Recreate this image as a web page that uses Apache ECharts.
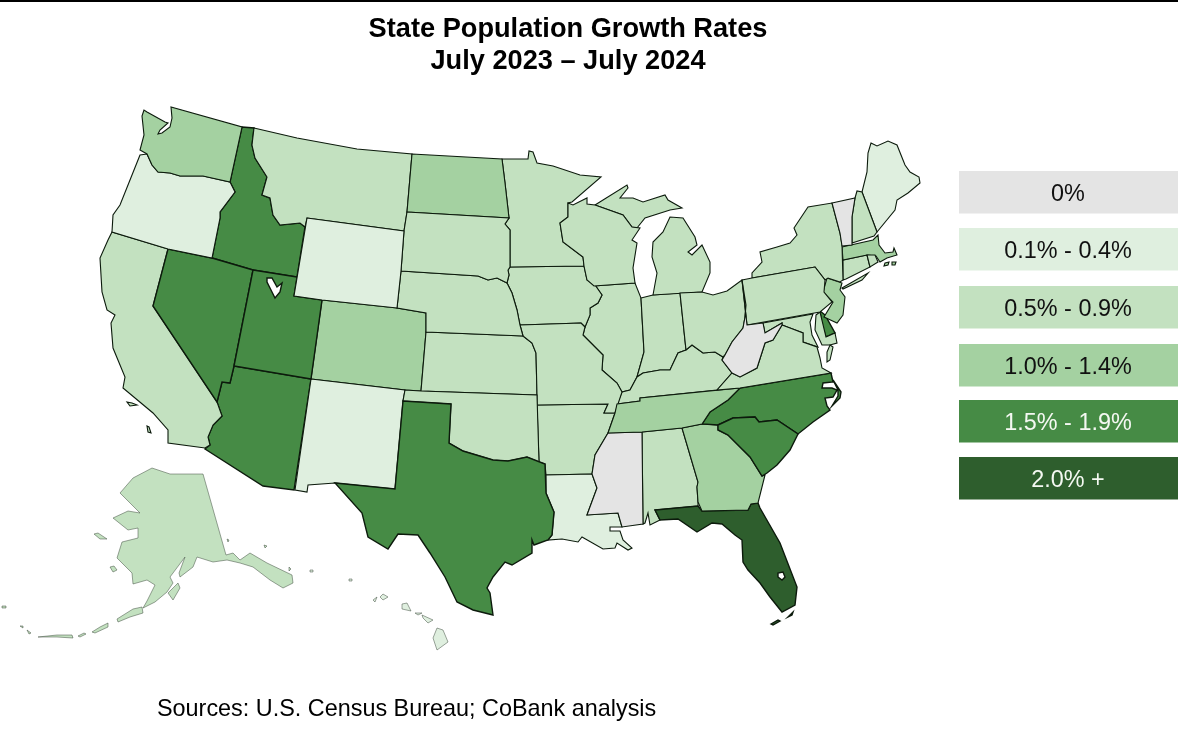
<!DOCTYPE html>
<html><head><meta charset="utf-8"><title>State Population Growth Rates</title>
<style>html,body{margin:0;padding:0;background:#fff}#c{width:1178px;height:733px}</style>
<script src="https://cdn.jsdelivr.net/npm/echarts@6/dist/echarts.min.js"></script></head>
<body><div id="c"></div>
<script>
const titleText = 'State Population Growth Rates\nJuly 2023 – July 2024';
const sourceText = 'Sources: U.S. Census Bureau; CoBank analysis';
const binLabels = ['0%','0.1% - 0.4%','0.5% - 0.9%','1.0% - 1.4%','1.5% - 1.9%','2.0% +'];
const binColors = ['#e4e4e4','#dfefdf','#c3e1c0','#a4d1a1','#468b45','#2e5e2d'];
const binTextColors = ['#111','#111','#111','#111','#f4f8f2','#f4f8f2'];
const stateNames = ['AL','AK','AZ','AR','CA','CO','CT','DE','FL','GA','HI','ID','IL','IN','IA','KS','KY','LA','ME','MD','MA','MI','MN','MS','MO','MT','NE','NV','NH','NJ','NM','NY','NC','ND','OH','OK','OR','PA','RI','SC','SD','TN','TX','UT','VT','VA','WA','WV','WI','WY'];
const stateBins =  [2,2,4,2,2,3,2,4,5,3,1,4,2,2,2,2,2,1,1,2,3,2,2,0,2,2,2,4,2,3,1,2,4,3,2,2,1,2,2,4,2,3,4,4,0,2,3,0,2,1];

// Base map outlines in the map's own projected plane ("|" separates parts, ";" starts a hole)
const stateShapes = {
WA:'144,110 142,116 144,135 140,150 147,154 152,165 158,172 170,173 180,176 203,176 230,182 242,127 171,107 172,118 170,127 162,133 158,134 160,130 168,123 165,122 147,112',
ID:'242,127 254,128 252,145 255,158 267,177 262,195 270,198 273,215 280,225 300,223 305,227 297,277 253,270 212,258 220,218 220,212 235,192 230,182',
MT:'254,128 297,138 357,149 412,154 407,212 404,231 307,218 305,227 300,223 280,225 273,215 270,198 262,195 267,177 255,158 252,145',
WY:'307,218 404,231 401,271 397,308 322,300 294,296',
OR:'140,155 132,175 120,205 113,215 112,232 168,249 212,258 220,218 220,212 235,192 230,182 203,176 180,176 170,173 158,172 152,165 147,154',
CA:'112,232 168,249 153,306 217,402 222,416 213,425 208,437 210,445 205,448 168,443 168,430 153,413 123,388 125,377 113,348 111,323 115,315 107,310 102,292 100,258 108,240|127,402 132,403 137,405 130,406|147,426 149,427 151,433 148,432',
NV:'168,249 212,258 253,270 234,366 230,383 222,382 217,402 153,306',
UT:'253,270 297,277 294,296 322,300 311,379 234,366;267,278 272,278 277,287 282,283 280,292 275,298 270,288 267,282',
AZ:'234,366 311,379 294,490 263,486 205,449 210,445 208,437 213,425 222,416 217,402 222,382 230,383',
CO:'322,300 397,308 426,313 426,332 421,391 405,390 311,379',
NM:'311,379 405,390 403,401 395,489 335,483 308,485 307,492 295,490',
TX:'403,401 451,404 449,443 463,451 483,457 493,460 508,461 527,457 545,464 546,493 554,512 552,535 548,540 534,545 532,540 532,553 512,565 505,562 493,577 487,588 490,593 493,615 473,610 457,602 445,577 430,553 418,535 398,534 388,549 368,537 362,513 335,483 395,489',
OK:'405,390 421,391 537,395 539,462 527,457 508,461 493,460 483,457 463,451 449,443 451,404 403,401',
KS:'426,332 523,336 532,343 536,353 537,395 421,391',
NE:'401,271 478,276 488,280 497,278 507,283 512,293 517,310 520,325 523,336 426,332 426,313 397,308',
ND:'412,154 502,159 505,183 509,218 407,212',
SD:'407,212 509,218 505,224 510,230 510,267 508,270 509,275 507,283 497,278 488,280 478,276 401,271 404,231',
MN:'502,159 528,159 529,151 533,152 537,163 553,166 580,175 601,177 572,202 568,203 568,217 560,223 563,242 583,257 584,266 510,267 510,230 505,224 509,218 505,183',
IA:'510,267 584,266 587,280 595,285 602,295 598,303 590,308 590,315 585,327 581,323 520,325 517,310 512,293 507,283 509,275 508,270',
MO:'520,325 581,323 585,327 583,335 603,355 602,370 617,383 622,392 615,413 604,413 608,404 537,405 537,395 536,353 532,343 523,336',
AR:'537,405 608,404 604,413 615,413 608,433 595,455 592,474 546,475 545,464 539,462',
LA:'546,475 592,474 597,488 587,515 618,513 622,527 610,527 610,531 620,531 623,540 632,548 628,550 617,543 615,548 603,549 582,537 578,542 562,539 548,540 552,535 554,512 546,493',
MS:'608,433 642,432 643,524 622,527 618,513 587,515 597,488 592,474 595,455',
TN:'617,404 640,401 640,398 740,388 728,400 710,412 702,424 682,428 642,432 608,433 615,413',
KY:'617,404 622,392 630,390 637,377 643,373 660,370 670,370 678,353 686,350 692,345 703,353 715,352 723,357 722,360 732,373 717,390 640,398 640,401',
VA:'717,390 732,373 740,377 757,368 765,343 773,340 782,325 790,328 803,333 803,342 817,347 820,358 822,368 831,373 740,388|830,345 833,347 830,360 827,362 827,352',
WV:'747,325 763,323 765,333 782,323 782,325 773,340 765,343 757,368 740,377 732,373 722,360 725,355 732,342 743,328 745,317 746,305 742,280',
OH:'680,293 702,292 713,295 727,291 742,280 746,305 745,317 743,328 732,342 725,355 723,357 715,352 703,353 692,345 686,350',
IN:'641,298 653,295 680,293 686,350 678,353 670,370 660,370 643,373 637,377 644,352',
IL:'594,286 635,283 641,298 644,352 637,377 630,390 622,392 617,383 602,370 603,355 583,335 585,327 590,315 590,308 598,303 602,295 595,285',
WI:'568,203 573,205 587,198 587,204 595,205 623,215 632,227 640,228 632,240 637,243 633,268 635,283 594,286 587,280 584,266 583,257 563,242 560,223 568,217',
MI:'595,205 627,185 628,188 620,198 633,198 643,202 665,195 668,200 682,208 670,210 645,218 637,228 632,227 623,215|653,295 657,273 652,257 653,242 663,232 670,217 683,218 695,237 697,245 688,252 692,255 702,245 710,262 710,273 702,292',
PA:'742,280 752,278 815,267 825,280 824,292 832,302 820,312 747,325',
NY:'752,278 752,273 762,262 760,252 777,247 790,243 797,235 794,228 808,207 832,203 840,233 842,245 843,280 840,282 828,278 825,280 815,267|842,288 868,273 862,280 843,289',
VT:'832,203 855,198 852,217 852,245 842,246 840,233',
NH:'855,198 857,191 862,192 877,232 874,236 852,243 852,217',
ME:'871,143 877,146 888,141 897,145 905,165 910,172 919,177 920,183 908,193 897,200 895,210 877,232 862,192 867,172 868,153',
MA:'842,247 873,240 878,235 879,245 885,253 893,252 894,248 897,255 887,258 880,262 876,256 867,255 843,260|885,263 889,262 888,265 884,266|892,262 896,262 895,265 892,265',
CT:'843,260 867,255 870,267 846,279 843,280',
RI:'867,255 875,255 878,262 870,267',
NJ:'827,278 842,283 840,290 845,297 843,315 837,323 824,317 833,302 823,292',
DE:'820,311 825,315 835,333 826,337 822,325',
MD:'763,323 813,314 810,322 812,335 818,347 803,342 803,333 790,328 782,325 782,323 765,333|816,315 820,312 826,337 835,333 837,343 830,345 822,345 815,330',
NC:'831,373 833,382 823,383 822,388 832,388 837,390 833,397 825,398 827,406 830,410 813,422 798,434 777,420 759,422 755,417 733,418 718,425 702,424 710,412 728,400 740,388|833,380 841,392 840,398 832,406 838,396 838,390',
SC:'733,418 755,417 759,422 777,420 798,434 790,450 777,465 767,473 762,476 750,457 728,435 718,430 718,425',
GA:'682,428 702,424 718,425 718,430 728,435 750,457 762,476 765,475 758,503 751,504 748,510 702,511 698,502 697,487 698,482',
AL:'642,432 682,428 698,482 697,487 698,502 698,506 655,510 660,520 650,525 648,513 645,523 643,524',
FL:'655,510 698,506 702,511 748,510 751,504 758,503 760,508 780,543 797,587 795,605 782,612 770,597 760,583 748,570 743,562 742,540 735,535 722,524 712,523 697,532 678,519 660,520;778,573 783,572 785,577 782,580 778,577|771,624 778,620 780,621 773,625|788,617 793,612 792,615',
AK:'203,474 226,555 233,553 240,560 250,553 267,563 292,575 293,583 283,588 270,580 253,567 240,563 227,560 213,562 197,557 193,567 180,577 179,573 185,557 170,577 173,583 167,592 155,602 143,608 147,601 155,585 147,580 133,584 132,573 117,558 122,542 138,538 138,528 128,530 113,518 128,511 140,513 120,493 133,478 152,468 170,474 187,474|142,607 133,609 117,619 118,622 130,617 143,613|168,593 178,583 180,588 173,600|110,567 114,566 117,570 113,572|94,534 98,533 107,539 100,539|92,632 100,627 108,623 108,627 95,633|78,636 84,633 86,634 80,637|38,637 57,635 72,635 73,638 57,637|2,606 6,606 6,608 2,608|20,626 23,626 23,628|27,630 31,633 29,634|289,567 291,569 289,571|264,545 267,546 265,548|227,539 229,540 228,542',
HI:'437,628 443,630 448,642 437,650 433,638|422,615 433,620 428,623 423,618|415,613 422,613 418,615|402,604 407,603 411,611 402,609|380,597 383,594 388,597 383,600|373,600 377,597 375,602|349,579 352,579 352,581 349,581|310,570 313,570 313,572 310,572'
};

function ringOf(s){return s.trim().split(' ').map(p=>{const a=p.split(',');return [+a[0],-a[1]];});}
function closeRing(r){const a=r[0],b=r[r.length-1];if(a[0]!==b[0]||a[1]!==b[1])r.push(a.slice());return r;}
function signedArea(r){let s=0;for(let i=0;i<r.length-1;i++)s+=r[i][0]*r[i+1][1]-r[i+1][0]*r[i][1];return s;}
let minX=1e9,maxX=-1e9,minY=1e9,maxY=-1e9;
const features = stateNames.map(n=>{
  const polys = stateShapes[n].split('|').map(part=>{
    const rings = part.split(';').map(s=>{
      const r=closeRing(ringOf(s));
      r.forEach(p=>{minX=Math.min(minX,p[0]);maxX=Math.max(maxX,p[0]);minY=Math.min(minY,-p[1]);maxY=Math.max(maxY,-p[1]);});
      return r;
    });
    // holes must wind against their outer ring to be punched out
    for(let i=1;i<rings.length;i++){ if(signedArea(rings[i])*signedArea(rings[0])>0) rings[i].reverse(); }
    return rings;
  });
  return {type:'Feature',properties:{name:n},geometry:{type:'MultiPolygon',coordinates:polys}};
});
echarts.registerMap('usStates',{type:'FeatureCollection',features});

const thinOutline = ['AK','HI'];
const mapData = stateNames.map((n,i)=>({name:n,value:stateBins[i],
  itemStyle: thinOutline.includes(n)?{borderColor:'#3c4a3c',borderWidth:0.5}:{borderColor:'#0c1a0c',borderWidth:stateBins[i]>=4?1.4:1.1}}));

const legendTop = [171,228,286,344,400,457];
const legendGraphics = [];
binLabels.forEach((t,i)=>{
  legendGraphics.push({type:'rect',silent:true,shape:{x:959,y:legendTop[i],width:219,height:42.5},style:{fill:binColors[i]}});
  legendGraphics.push({type:'text',silent:true,x:1068,y:legendTop[i]+24,style:{text:t,fill:binTextColors[i],font:'23.4px "Liberation Sans", Arial, sans-serif',textAlign:'center',textVerticalAlign:'middle'}});
});

const chart = echarts.init(document.getElementById('c'),null,{renderer:'canvas'});
chart.setOption({
  backgroundColor:'#ffffff',
  animation:false,
  title:{text:titleText,left:563,top:9,textAlign:'center',
    textStyle:{fontFamily:'"Liberation Sans", Arial, sans-serif',fontWeight:'bold',fontSize:27.2,lineHeight:32,color:'#000'}},
  visualMap:{show:false,type:'piecewise',seriesIndex:0,dimension:0,
    pieces:binColors.map((c,i)=>({value:i,color:c}))},
  series:[{type:'map',map:'usStates',silent:true,aspectScale:1,roam:false,
    left:minX,top:minY,width:maxX-minX,height:maxY-minY,
    label:{show:false},emphasis:{disabled:true},select:{disabled:true},
    itemStyle:{borderColor:'#0c1a0c',borderWidth:1.1},
    data:mapData}],
  graphic:[
    {type:'rect',silent:true,shape:{x:0,y:0,width:1178,height:2},style:{fill:'#000'}},
    ...legendGraphics,
    {type:'text',silent:true,x:157,y:710,style:{text:sourceText,fill:'#000',font:'23.4px "Liberation Sans", Arial, sans-serif',textAlign:'left',textVerticalAlign:'middle'}}
  ]
});
</script></body></html>
